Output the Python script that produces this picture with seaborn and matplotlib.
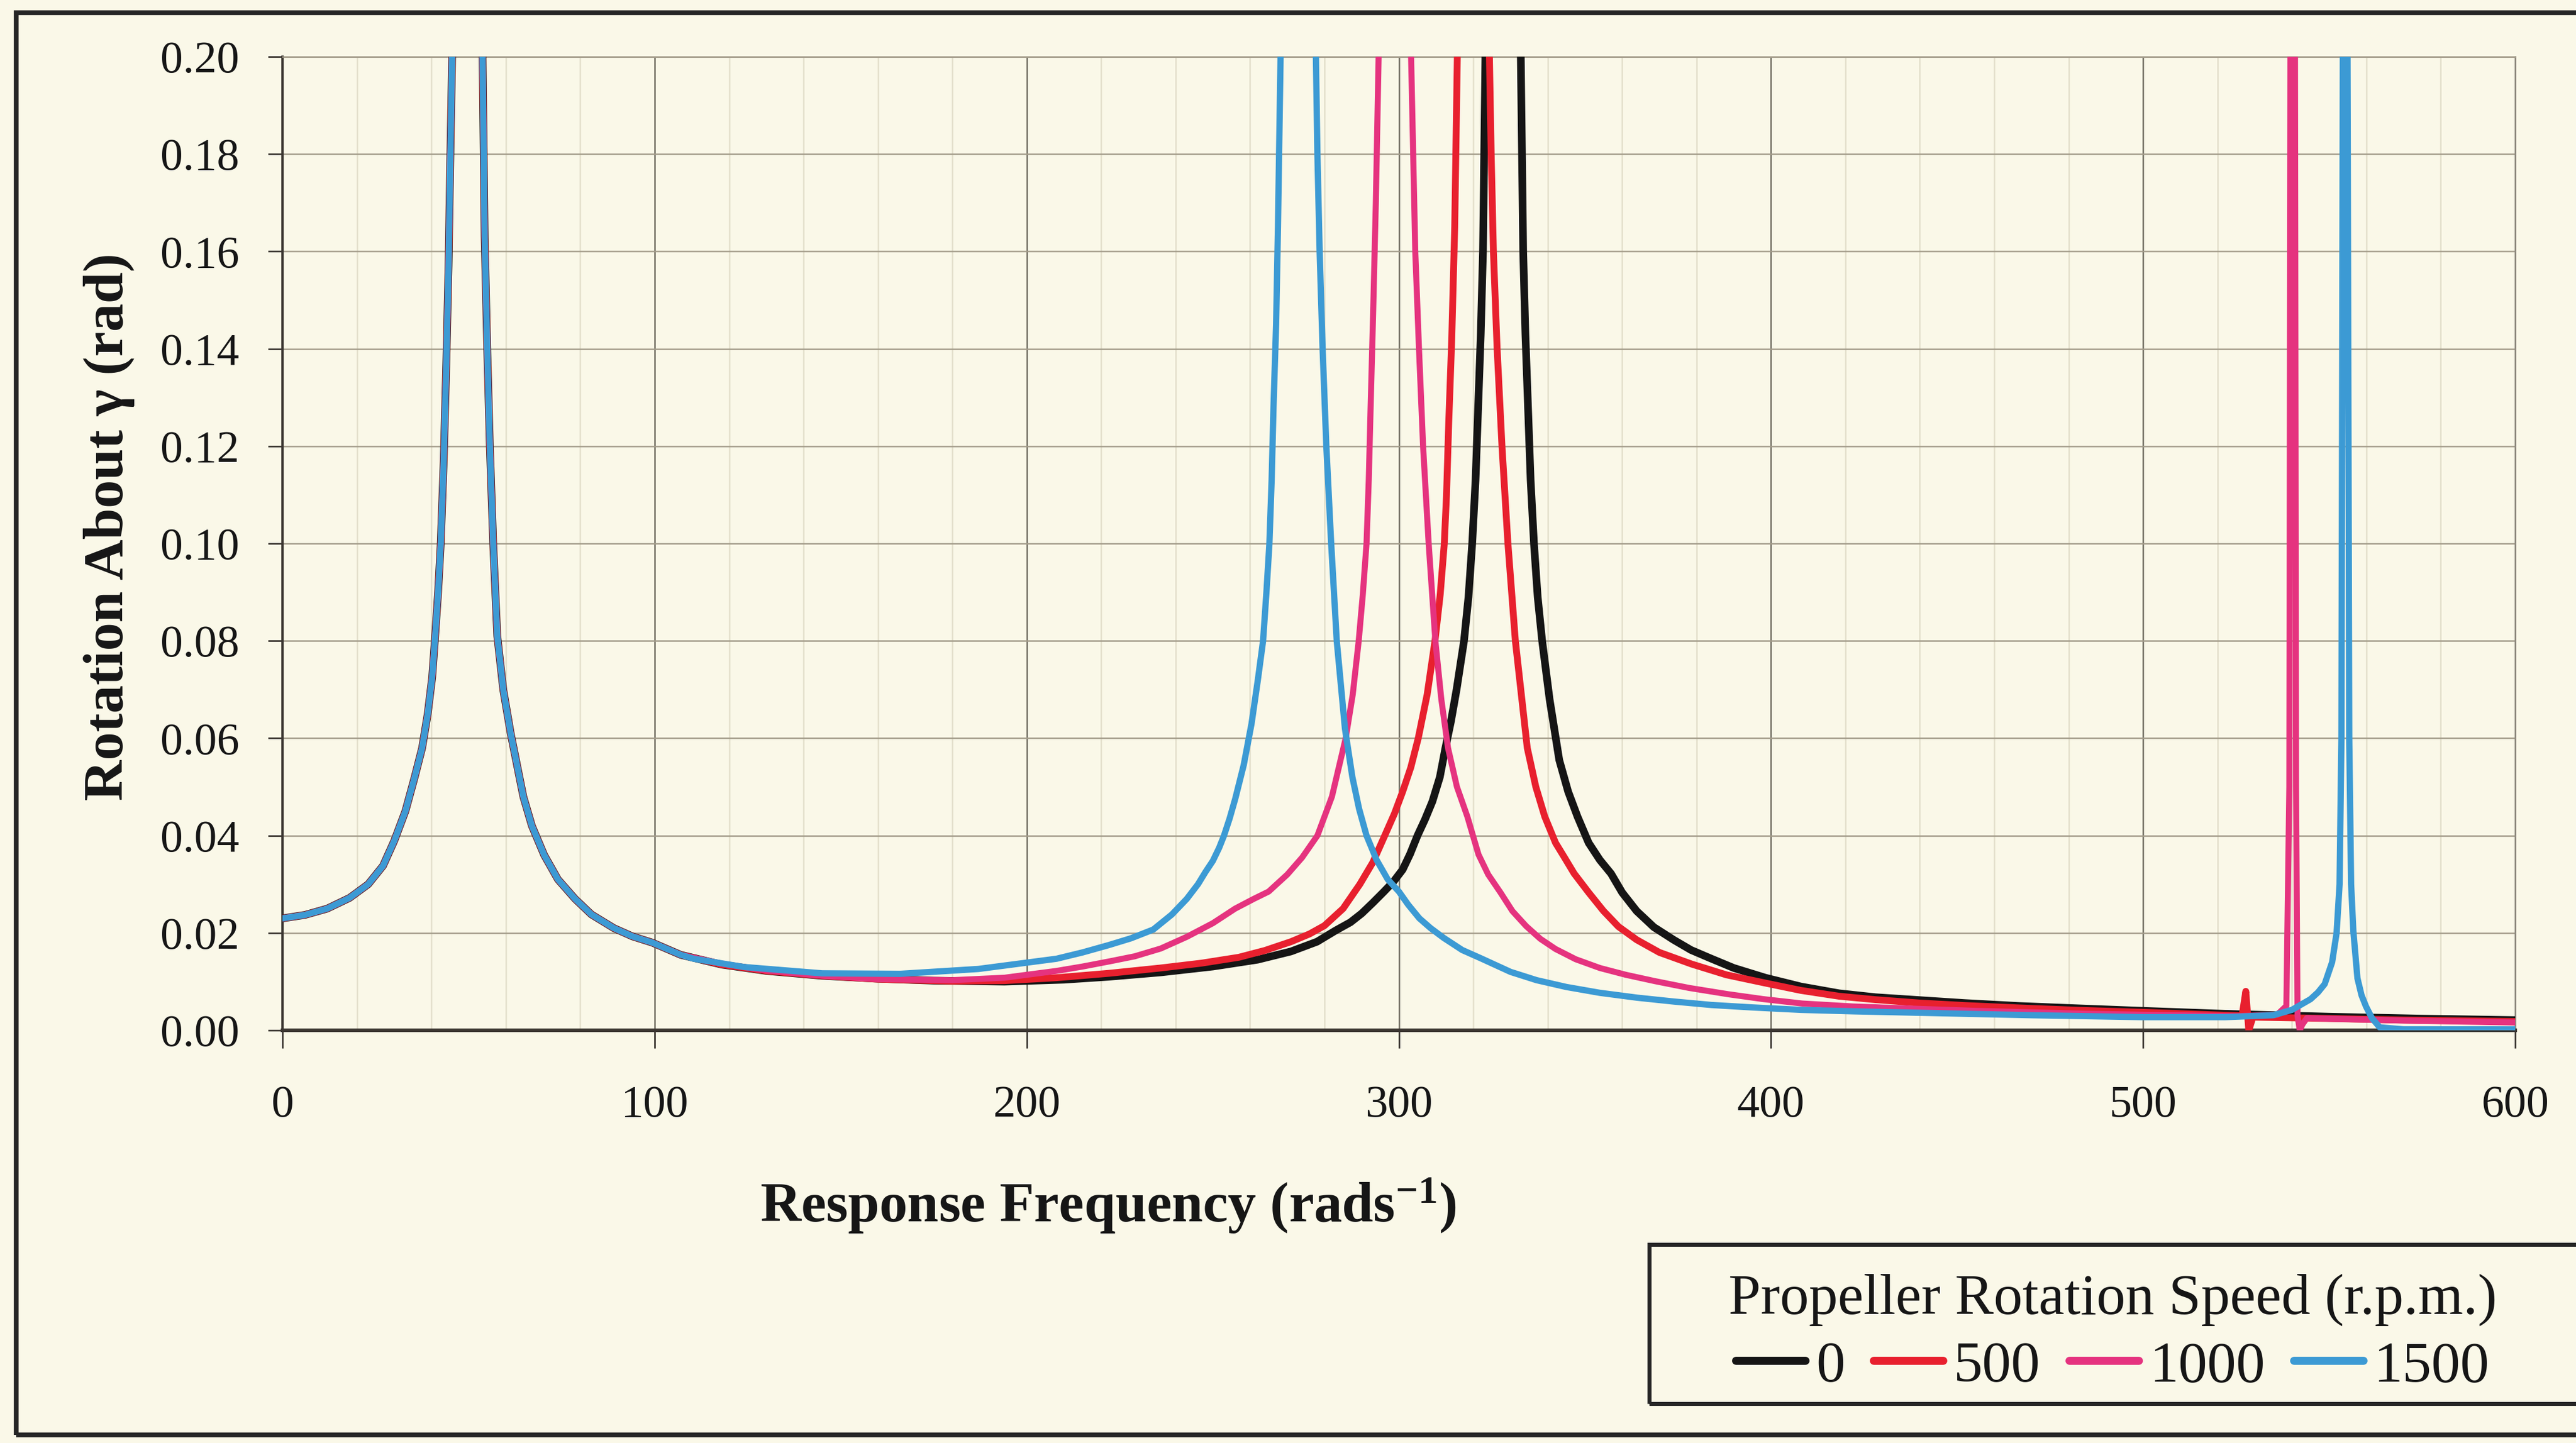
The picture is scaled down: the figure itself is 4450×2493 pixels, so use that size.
import numpy as np
import pandas as pd
import matplotlib
matplotlib.use("Agg")
import matplotlib.pyplot as plt
from matplotlib.ticker import MultipleLocator, FormatStrFormatter
from matplotlib.patches import Rectangle
import seaborn as sns

# ---------------- data ----------------
SPEEDS = ["0", "500", "1000", "1500"]

# first resonance, common to all propeller speeds
F_LOW = [0, 6, 12, 18, 23, 27, 30, 33, 35.5, 37.5, 39, 40.2, 41, 41.8, 42.5,
         43.3, 44, 44.6, 45, 45.8, 49.7, 53.6, 54.3, 55, 55.7, 56.6, 57.7,
         59.3, 61.3, 64.7, 67, 70.3, 74, 78.6, 83, 89, 94, 99.4, 107]
R_LOW = [0.0230, 0.0237, 0.0250, 0.0272, 0.0300, 0.0338, 0.0389, 0.0450,
         0.052, 0.058, 0.065, 0.0725, 0.081, 0.090, 0.100, 0.117, 0.137,
         0.157, 0.176, 0.21, 0.6, 0.21, 0.163, 0.140, 0.120, 0.100, 0.081,
         0.070, 0.061, 0.048, 0.042, 0.036, 0.031, 0.027, 0.0238, 0.021,
         0.0193, 0.018, 0.0155]

F_0 = [118, 130, 145, 160, 175, 194, 210, 222, 236, 250, 262, 271, 278, 283,
       287, 290, 293, 296, 298.5, 301, 303, 305, 307, 309, 311, 312.5, 314,
       315.5, 317.5, 318.7, 319.7, 320.6, 321.3, 322, 322.6, 323.4, 328,
       332.6, 333.4, 334, 334.7, 335.4, 336.3, 337.3, 338.5, 340.5, 343.1,
       345.5, 348, 351, 354, 357, 360, 363.9, 368.5, 373.8, 378.5, 383.7, 390,
       398.5, 408, 418.3, 428, 440, 452, 466.6, 483, 500, 521.7, 550, 575, 600]
R_0 = [0.0135, 0.0122, 0.0112, 0.0106, 0.0102, 0.0100, 0.0104, 0.0110, 0.0119,
       0.0131, 0.0145, 0.0162, 0.0182, 0.0205, 0.0222, 0.0240, 0.0262, 0.0285,
       0.0305, 0.0330, 0.0362, 0.0400, 0.0433, 0.0470, 0.0520, 0.0580, 0.0635,
       0.0700, 0.0800, 0.0890, 0.1000, 0.1130, 0.1280, 0.1430, 0.1600, 0.21,
       0.6, 0.21, 0.1600, 0.1430, 0.1280, 0.1130, 0.1000, 0.0890, 0.0800,
       0.0680, 0.0555, 0.0490, 0.0439, 0.0385, 0.0350, 0.0322, 0.0283, 0.0245,
       0.0212, 0.0186, 0.0165, 0.0148, 0.0128, 0.0108, 0.0090, 0.0076, 0.0068,
       0.0062, 0.0056, 0.0050, 0.0045, 0.0040, 0.0034, 0.0028, 0.0024, 0.0021]

F_500 = [118, 130, 145, 160, 180, 194, 208, 222, 236, 247, 257, 264, 271, 276,
         280, 285, 289.5, 293, 296.2, 298.8, 301, 303.2, 305.2, 307.6, 309.7,
         311.1, 312.2, 312.8, 313.4, 314.2, 315, 315.9, 320, 324.1, 324.8,
         325.4, 326.4, 327.7, 329.3, 331.3, 334.5, 336.8, 339.2, 342.1, 344.5,
         347.1, 351, 355, 359, 363.9, 370, 378.7, 388, 398.5, 408, 418.3, 428,
         440, 452, 466.6, 483, 500, 521.7, 526.6, 527.6, 528.4, 529.5, 545,
         570, 600]
R_500 = [0.0135, 0.0122, 0.0112, 0.0105, 0.0101, 0.0102, 0.0108, 0.0117,
         0.0128, 0.0138, 0.0150, 0.0164, 0.0182, 0.0198, 0.0215, 0.0250,
         0.0300, 0.0345, 0.0400, 0.0445, 0.0490, 0.0540, 0.0600, 0.0690,
         0.0800, 0.0895, 0.1000, 0.1100, 0.1250, 0.1420, 0.1650, 0.21, 0.6,
         0.21, 0.1800, 0.1600, 0.1400, 0.1200, 0.1000, 0.0800, 0.0580, 0.0500,
         0.0439, 0.0385, 0.0355, 0.0322, 0.0283, 0.0245, 0.0213, 0.0186,
         0.0160, 0.0136, 0.0114, 0.0097, 0.0082, 0.0070, 0.0063, 0.0056,
         0.0051, 0.0046, 0.0041, 0.0037, 0.0031, 0.0030, 0.0080, 0.0000,
         0.0027, 0.0025, 0.0021, 0.0018]

F_1000 = [118, 130, 145, 160, 180, 194, 208, 215, 222.5, 229, 236, 243, 250,
          256, 261, 265, 270, 274, 278.1, 282, 285.7, 287.6, 289.2, 290.3,
          291.3, 291.9, 292.4, 293.1, 293.8, 294.8, 299, 303.0, 303.7, 304.4,
          305.4, 306.5, 308, 309.8, 311.4, 313.2, 315.6, 318.4, 321.4, 324,
          327.3, 330.5, 334.2, 338, 342.1, 347.5, 354, 361, 368.8, 378, 388.6,
          398, 408.4, 422, 440, 455, 470, 485, 500, 525, 536, 538.5, 539.3,
          539.6, 540.2, 540.8, 541.1, 541.5, 542.1, 542.8, 544, 570, 600]
R_1000 = [0.0137, 0.0123, 0.0112, 0.0105, 0.0103, 0.0108, 0.0122, 0.0131,
          0.0142, 0.0152, 0.0168, 0.0192, 0.0220, 0.0250, 0.0270, 0.0285,
          0.0320, 0.0355, 0.0400, 0.0480, 0.0600, 0.0690, 0.0800, 0.0895,
          0.1000, 0.1130, 0.1280, 0.1480, 0.1700, 0.21, 0.6, 0.21, 0.1850,
          0.1600, 0.1400, 0.1200, 0.1000, 0.0800, 0.0680, 0.0580, 0.0500,
          0.0439, 0.0361, 0.0320, 0.0283, 0.0245, 0.0214, 0.0188, 0.0167,
          0.0146, 0.0128, 0.0114, 0.0101, 0.0087, 0.0074, 0.0064, 0.0055,
          0.0049, 0.0044, 0.0040, 0.0037, 0.0034, 0.0032, 0.0029, 0.0032,
          0.0050, 0.050, 0.21, 0.6, 0.21, 0.050, 0.0030, 0.0000, 0.0012,
          0.0025, 0.0020, 0.0016]

F_1500 = [110.5, 124, 145, 166, 187, 208, 215, 222, 228, 234, 239, 243, 246,
          248, 250, 251.7, 253, 254.5, 256, 258.3, 260.4, 262.1, 263.5, 264.4,
          265.2, 265.8, 266.3, 267, 267.5, 268.4, 273, 277.5, 278.1, 278.7,
          279.5, 280.5, 281.8, 283.3, 285.5, 287.5, 289.3, 291.3, 294, 297,
          300, 302.5, 305.5, 308.5, 312, 317, 322, 330, 337, 345, 354, 364,
          374, 384, 395, 408, 422, 440, 470, 500, 522, 535, 540, 545, 547,
          548.8, 550.8, 552.0, 552.8, 553.3, 553.7, 554.3, 554.9, 555.4, 555.9,
          556.5, 557.6, 558.7, 559.9, 561.5, 563.6, 570, 600]
R_1500 = [0.0147, 0.0130, 0.0117, 0.0116, 0.0126, 0.0147, 0.0160, 0.0175,
          0.0189, 0.0207, 0.0238, 0.0270, 0.0300, 0.0325, 0.0348, 0.0375,
          0.0400, 0.0435, 0.0475, 0.0545, 0.0630, 0.0720, 0.0800, 0.0900,
          0.1000, 0.1130, 0.1280, 0.1450, 0.1650, 0.21, 0.6, 0.21, 0.1800,
          0.1600, 0.1400, 0.1200, 0.1000, 0.0800, 0.0620, 0.0520, 0.0455,
          0.0400, 0.0350, 0.0310, 0.0285, 0.0258, 0.0230, 0.0210, 0.0190,
          0.0165, 0.0148, 0.0120, 0.0103, 0.0089, 0.0077, 0.0067, 0.0059,
          0.0052, 0.0047, 0.0042, 0.0039, 0.0036, 0.0031, 0.0027, 0.0027,
          0.0031, 0.0042, 0.0064, 0.0078, 0.0095, 0.0140, 0.0200, 0.0300,
          0.0600, 0.21, 0.6, 0.21, 0.0600, 0.0300, 0.0204, 0.0107, 0.0072,
          0.0049, 0.0025, 0.0006, 0.0002, 0.0002]

X_TICKS = [0, 100, 200, 300, 400, 500, 600]
Y_TICKS = [0.00, 0.02, 0.04, 0.06, 0.08, 0.10, 0.12, 0.14, 0.16, 0.18, 0.20]

X_LABEL = "Response Frequency (rads$^{-1}$)"
Y_LABEL = "Rotation About γ (rad)"
LEGEND_TITLE = "Propeller Rotation Speed (r.p.m.)"

# ---------------- style ----------------
sns.set_style("white")
plt.rcParams["font.family"] = ["Liberation Serif", "DejaVu Serif"]
plt.rcParams["mathtext.default"] = "regular"

BG = "#FAF8E8"
TXT = "#161616"
PALETTE = {"0": "#151515", "500": "#E8202E", "1000": "#E5337F", "1500": "#3C9AD4"}
WIDTHS = {"0": 9.5, "500": 8.5, "1000": 7.5, "1500": 7.8}

fig = plt.figure(figsize=(44.5, 24.93), dpi=100, facecolor=BG)
ax = fig.add_axes([0.1097, 0.2860, 0.9764 - 0.1097, 0.9607 - 0.2860])
ax.set_facecolor(BG)

frames = []
for spd, f, r in [("0", F_0, R_0), ("500", F_500, R_500),
                  ("1000", F_1000, R_1000), ("1500", F_1500, R_1500)]:
    frames.append(pd.DataFrame({
        "freq": np.concatenate([F_LOW, f]),
        "rot": np.concatenate([R_LOW, r]),
        "speed": spd,
    }))
df = pd.concat(frames, ignore_index=True)

sns.lineplot(data=df, x="freq", y="rot", hue="speed", hue_order=SPEEDS,
             palette=PALETTE, estimator=None, sort=False, linewidth=7,
             ax=ax, zorder=3)
for line, spd in zip(ax.lines[:4], SPEEDS):
    line.set_linewidth(WIDTHS[spd])
    line.set_solid_capstyle("round")
    line.set_solid_joinstyle("round")

# axes, ticks, grid
ax.set_xlim(0, 600)
ax.set_ylim(0, 0.2)
ax.set_xticks(X_TICKS)
ax.set_yticks(Y_TICKS)
ax.xaxis.set_minor_locator(MultipleLocator(20))
ax.yaxis.set_major_formatter(FormatStrFormatter("%.2f"))

ax.grid(True, which="major", axis="y", color="#A39C8A", lw=1.8, zorder=0)
ax.grid(True, which="major", axis="x", color="#6F6B60", lw=1.8, zorder=0)
ax.grid(True, which="minor", axis="x", color="#E3DFCB", lw=1.8, zorder=0)
ax.set_axisbelow(True)

ax.tick_params(axis="x", which="major", bottom=True, direction="out",
               length=22, width=2, pad=46, labelsize=56, colors="#3b3631",
               labelcolor=TXT)
ax.tick_params(axis="x", which="minor", bottom=False, length=0)
ax.tick_params(axis="y", which="major", left=True, direction="out",
               length=18, width=2, pad=36, labelsize=56, colors="#3b3631",
               labelcolor=TXT)

ax.spines["left"].set_color("#3b3631")
ax.spines["left"].set_linewidth(3)
ax.spines["bottom"].set_color("#3b3631")
ax.spines["bottom"].set_linewidth(4.5)
ax.spines["top"].set_color("#A39C8A")
ax.spines["top"].set_linewidth(1.8)
ax.spines["right"].set_color("#8A857A")
ax.spines["right"].set_linewidth(1.8)

ax.set_xlabel(X_LABEL, fontsize=70, fontweight="bold", color=TXT)
ax.xaxis.set_label_coords(0.3697, -0.149)
ax.set_ylabel(Y_LABEL, fontsize=70, fontweight="bold", color=TXT)
ax.yaxis.set_label_coords(-0.0661, 0.517)

# legend
sns.move_legend(ax, "center", bbox_to_anchor=(0.8202, 0.0758),
                bbox_transform=fig.transFigure, ncol=4, title=LEGEND_TITLE,
                title_fontsize=72, fontsize=72, frameon=False,
                handlelength=1.2, handletextpad=0.18, columnspacing=0.5,
                labelspacing=0.25, borderpad=0)
leg = ax.get_legend()
for h in leg.legend_handles:
    h.set_linewidth(10)
for t in leg.get_texts():
    t.set_color(TXT)
leg.get_title().set_color(TXT)

# legend box (runs off the right edge) and outer chart frame
fig.patches.append(Rectangle((0.6402, 0.0273), 0.5, 0.1103, fill=False,
                             edgecolor="#262626", lw=5,
                             transform=fig.transFigure, zorder=1))
fig.patches.append(Rectangle((0.0063, 0.0056), 1.2, 0.9856, fill=False,
                             edgecolor="#262626", lw=6,
                             transform=fig.transFigure, zorder=1))

fig.savefig("out.png", dpi=100, facecolor=BG)
